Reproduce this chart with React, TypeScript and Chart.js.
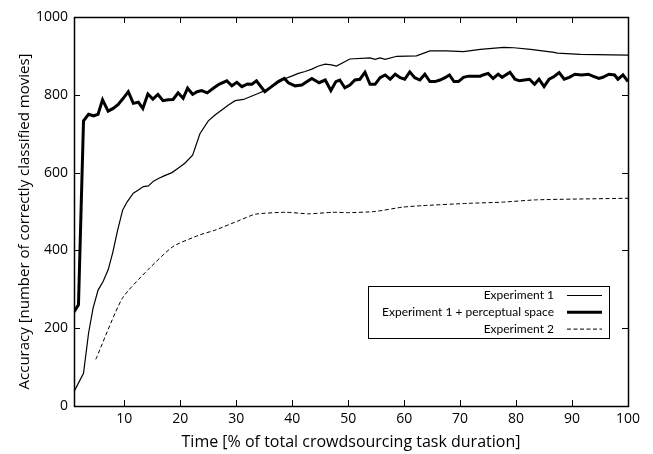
import React, { useEffect, useRef } from "react";
import { Chart, registerables } from "chart.js";

Chart.register(...registerables);

// ---- Data ----
const exp1Times = [1.0, 2.7, 3.6, 4.4, 5.3, 6.2, 7.1, 7.9, 8.8, 9.7, 10.5, 11.6, 12.5, 13.4, 14.3, 15.2, 16.1, 17.0, 18.5, 19.6, 20.8, 22.2, 23.5, 25.0, 26.2, 27.4, 28.6, 29.8, 31.3, 32.8, 34.0, 35.3, 36.9, 38.4, 39.9, 41.1, 42.3, 43.5, 44.7, 45.9, 47.0, 47.9, 50.3, 53.9, 54.8, 55.7, 56.6, 58.7, 62.2, 64.6, 67.6, 70.6, 73.6, 77.8, 79.6, 82.6, 86.8, 87.4, 91.5, 100];
const exp1Values = [37, 84, 187, 251, 298, 320, 350, 393, 452, 504, 525, 547, 555, 564, 566, 578, 585, 591, 600, 611, 624, 645, 700, 733, 748, 761, 774, 785, 788, 797, 804, 812, 825, 840, 848, 855, 860, 866, 874, 879, 877, 874, 892, 895, 891, 895, 891, 899, 900, 913, 913, 911, 917, 922, 921, 917, 909, 907, 904, 902];

const exp1PlusTimes = [
  1.0, 1.8, 2.7, 3.6, 4.5, 5.3, 6.1, 7.1, 8.0, 8.9,
  9.8, 10.7, 11.6, 12.5, 13.3, 14.2, 15.1, 16.0, 16.9, 17.8,
  18.7, 19.6, 20.5, 21.3, 22.2, 23.0, 23.8, 24.8, 25.9, 26.9,
  28.3, 29.2, 30.1, 31.0, 32.0, 32.8, 33.6, 35.1, 36.3, 37.5,
  38.6, 39.3, 40.5, 41.7, 43.5, 44.8, 45.9, 46.9, 47.8, 48.5,
  49.4, 50.3, 51.2, 52.1, 53.0, 53.9, 54.8, 55.7, 56.6, 57.5,
  58.4, 59.3, 60.1, 61.0, 61.9, 62.8, 63.7, 64.6, 65.5, 66.4,
  67.3, 68.1, 68.9, 69.7, 70.6, 71.5, 72.7, 73.6, 74.1, 75.0,
  75.9, 76.8, 77.5, 78.9, 79.8, 80.6, 81.5, 82.4, 83.3, 84.1,
  85.0, 85.9, 86.8, 87.7, 88.6, 89.5, 90.5, 91.7, 92.9, 93.7,
  94.8, 95.5, 96.6, 97.6, 98.2, 99.1, 100,
];
const exp1PlusValues = [
  242, 260, 733, 750, 746, 750, 787, 758, 765, 775,
  791, 808, 778, 781, 765, 802, 789, 801, 785, 787,
  788, 805, 791, 817, 801, 808, 811, 805, 817, 827,
  836, 823, 832, 821, 828, 827, 836, 808, 821, 834,
  842, 831, 823, 825, 842, 831, 838, 811, 834, 838,
  818, 825, 838, 840, 858, 827, 827, 844, 851, 840,
  853, 844, 840, 859, 844, 838, 853, 834, 834, 838,
  844, 851, 834, 834, 845, 848, 848, 848, 851, 855,
  842, 853, 845, 858, 840, 836, 838, 840, 827, 840,
  821, 840, 847, 857, 840, 845, 853, 851, 853, 848,
  842, 845, 853, 851, 840, 851, 834,
];

const exp2Times = [4.9, 9.6, 14.2, 18.7, 23.5, 26.2, 30.7, 33.4, 38.8, 43.0, 47.2, 50.0, 54.8, 59.6, 63.2, 71.5, 77.5, 83.7, 100];
const exp2Values = [120, 276, 350, 410, 440, 452, 478, 493, 498, 494, 498, 497, 500, 511, 515, 521, 524, 530, 534];

const xTickValues = [10, 20, 30, 40, 50, 60, 70, 80, 90, 100];
const yTickValues = [0, 200, 400, 600, 800, 1000];

const seriesLabels = ["Experiment 1", "Experiment 1 + perceptual space", "Experiment 2"];
const xTitle = "Time [% of total crowdsourcing task duration]";
const yTitle = "Accuracy [number of correctly classified movies]";

const FONT = "'Open Sans', 'DejaVu Sans', sans-serif";
const LEGEND_FONT = "Lato, 'Open Sans', sans-serif";

const toPoints = (xs: number[], ys: number[]) => xs.map((x, i) => ({ x, y: ys[i] }));

// Frame with inward ticks on all four sides (gnuplot style)
const framePlugin = {
  id: "frameTicks",
  afterDraw(chart: any) {
    const { ctx, chartArea } = chart;
    const xs = chart.scales.x;
    const ys = chart.scales.y;
    const L = 6;
    ctx.save();
    ctx.strokeStyle = "#000";
    ctx.lineWidth = 1;
    ctx.beginPath();
    xTickValues.forEach((v) => {
      const px = Math.round(xs.getPixelForValue(v)) + 0.5;
      ctx.moveTo(px, chartArea.bottom);
      ctx.lineTo(px, chartArea.bottom - L);
      ctx.moveTo(px, chartArea.top);
      ctx.lineTo(px, chartArea.top + L);
    });
    yTickValues.forEach((v) => {
      const py = Math.round(ys.getPixelForValue(v)) + 0.5;
      ctx.moveTo(chartArea.left, py);
      ctx.lineTo(chartArea.left + L, py);
      ctx.moveTo(chartArea.right, py);
      ctx.lineTo(chartArea.right - L, py);
    });
    ctx.stroke();
    ctx.lineWidth = 1.5;
    ctx.strokeRect(
      Math.round(chartArea.left) + 0.5,
      Math.round(chartArea.top) + 0.5,
      Math.round(chartArea.right - chartArea.left),
      Math.round(chartArea.bottom - chartArea.top)
    );
    // y-axis title, centred on the figure like the reference
    ctx.save();
    ctx.translate(25, (chartArea.top + chartArea.bottom) / 2 + 10);
    ctx.rotate(-Math.PI / 2);
    ctx.font = `15px ${FONT}`;
    ctx.fillStyle = "#000";
    ctx.textAlign = "center";
    ctx.textBaseline = "middle";
    ctx.fillText(yTitle, 0, 0);
    ctx.restore();
    ctx.restore();
  },
};

// Boxed legend: right-aligned labels with line samples on the right
const legendPlugin = {
  id: "boxLegend",
  afterDraw(chart: any) {
    const { ctx, chartArea } = chart;
    const boxRight = chartArea.right - 19;
    const boxLeft = boxRight - 241;
    const boxTop = chartArea.top + 269;
    const boxH = 52;
    ctx.save();
    ctx.fillStyle = "#fff";
    ctx.fillRect(boxLeft, boxTop, boxRight - boxLeft, boxH);
    ctx.strokeStyle = "#000";
    ctx.lineWidth = 1;
    ctx.strokeRect(Math.round(boxLeft) + 0.5, Math.round(boxTop) + 0.5, Math.round(boxRight - boxLeft), boxH);
    ctx.font = `12px ${LEGEND_FONT}`;
    ctx.textAlign = "right";
    ctx.textBaseline = "middle";
    chart.data.datasets.forEach((ds: any, i: number) => {
      const y = boxTop + 9.5 + i * 16.8;
      ctx.fillStyle = "#000";
      ctx.fillText(ds.label, boxRight - 55, y);
      ctx.beginPath();
      ctx.lineWidth = ds.borderWidth;
      ctx.setLineDash(ds.borderDash || []);
      ctx.moveTo(boxRight - 42, y);
      ctx.lineTo(boxRight - 7, y);
      ctx.stroke();
      ctx.setLineDash([]);
    });
    ctx.restore();
  },
};

export default function App() {
  const ref = useRef<HTMLCanvasElement | null>(null);

  useEffect(() => {
    if (!ref.current) return;
    const chart = new Chart(ref.current, {
      type: "line",
      data: {
        datasets: [
          {
            label: seriesLabels[0],
            data: toPoints(exp1Times, exp1Values),
            borderColor: "#000",
            borderWidth: 1.2,
            pointRadius: 0,
            tension: 0,
          },
          {
            label: seriesLabels[1],
            data: toPoints(exp1PlusTimes, exp1PlusValues),
            borderColor: "#000",
            borderWidth: 3,
            pointRadius: 0,
            tension: 0,
          },
          {
            label: seriesLabels[2],
            data: toPoints(exp2Times, exp2Values),
            borderColor: "#000",
            borderWidth: 1,
            borderDash: [4, 2.5],
            pointRadius: 0,
            tension: 0.2,
          },
        ],
      },
      options: {
        animation: false,
        responsive: false,
        maintainAspectRatio: false,
        devicePixelRatio: 1,
        layout: { padding: { top: 17, right: 25, left: 0, bottom: 0 } },
        plugins: {
          legend: { display: false },
          tooltip: { enabled: false },
          title: { display: false },
        },
        scales: {
          x: {
            type: "linear",
            min: 1,
            max: 100,
            grid: { display: false, drawTicks: false },
            border: { display: false },
            afterBuildTicks: (scale: any) => {
              scale.ticks = xTickValues.map((v) => ({ value: v }));
            },
            afterFit: (scale: any) => {
              scale.height = 48;
            },
            ticks: {
              color: "#000",
              padding: 5,
              maxRotation: 0,
              font: { family: FONT, size: 14 },
              callback: (v: any) => String(v),
            },
            title: {
              display: true,
              text: xTitle,
              color: "#000",
              font: { family: FONT, size: 16 },
              padding: { top: 0, bottom: 2 },
            },
          },
          y: {
            type: "linear",
            min: 0,
            max: 1000,
            grid: { display: false, drawTicks: false },
            border: { display: false },
            afterBuildTicks: (scale: any) => {
              scale.ticks = yTickValues.map((v) => ({ value: v }));
            },
            afterFit: (scale: any) => {
              scale.width = 74;
            },
            ticks: {
              color: "#000",
              padding: 6,
              font: { family: FONT, size: 14 },
              callback: (v: any) => String(v),
            },
            title: { display: false, text: yTitle },
          },
        },
      },
      plugins: [framePlugin, legendPlugin],
    });
    return () => chart.destroy();
  }, []);

  return (
    <div style={{ position: "fixed", left: 0, top: 0, width: 653, height: 454, background: "#fff" }}>
      <canvas ref={ref} width={653} height={454} />
    </div>
  );
}
